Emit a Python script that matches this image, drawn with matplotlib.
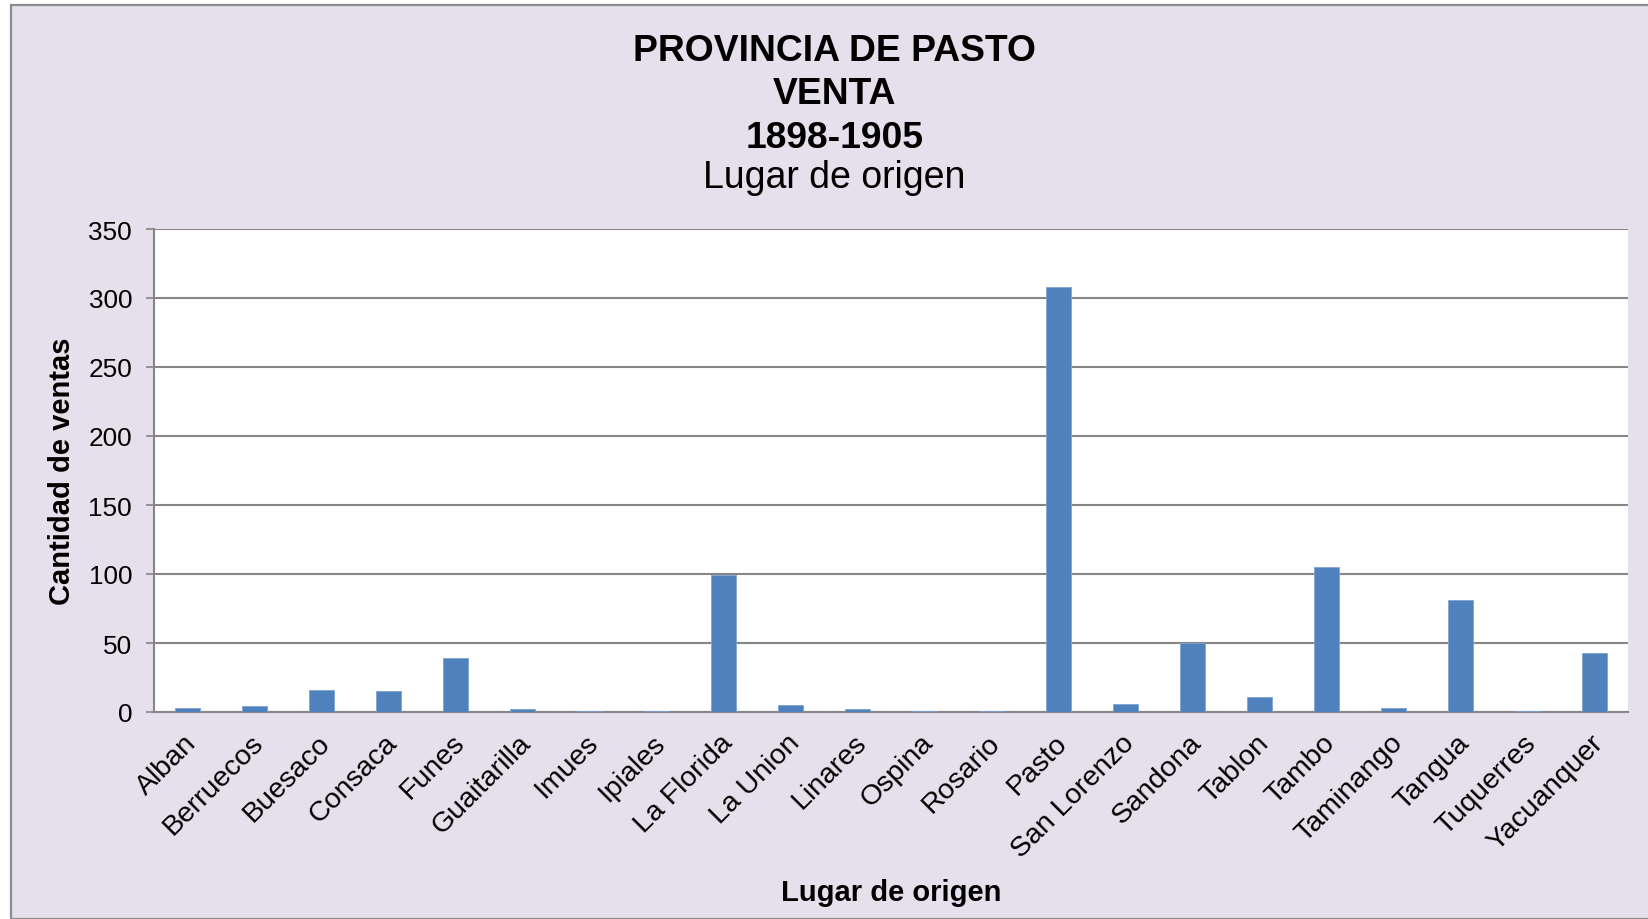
import matplotlib
matplotlib.use("Agg")
import matplotlib.pyplot as plt
import matplotlib.transforms as mtransforms
from matplotlib.patches import Rectangle

plt.rcParams['font.family'] = ['Liberation Sans', 'DejaVu Sans']

categories = ["Alban", "Berruecos", "Buesaco", "Consaca", "Funes", "Guaitarilla",
              "Imues", "Ipiales", "La Florida", "La Union", "Linares", "Ospina",
              "Rosario", "Pasto", "San Lorenzo", "Sandona", "Tablon", "Tambo",
              "Taminango", "Tangua", "Tuquerres", "Yacuanquer"]
ventas = [3, 4, 16, 15, 39, 2, 1, 1, 99, 5, 2, 1, 1, 308, 6, 50, 11, 105, 3, 81, 1, 43]
yticks = [0, 50, 100, 150, 200, 250, 300, 350]

W, H = 1649, 920
fig = plt.figure(figsize=(W / 100, H / 100), dpi=100, facecolor="white")

# outer chart area (only left/top border visible)
bg = Rectangle((11 / W, 0), 1.2, 1 - 6 / H, transform=fig.transFigure,
               facecolor="#E5E0EC", edgecolor="#8C8C8C", linewidth=1.6, zorder=-10)
fig.patches.append(bg)

ax = fig.add_axes([154 / W, 1 - 713 / H, (1628 - 154) / W, (713 - 230) / H])
ax.set_facecolor("white")

x = list(range(len(categories)))
ax.bar(x, ventas, width=0.38, color="#4F81BD", edgecolor="#7FA3D0", linewidth=0.6, zorder=5)

ax.set_xlim(-0.5, len(categories) - 0.5)
ax.set_ylim(0, 350)
ax.set_yticks(yticks)
ax.set_yticklabels([str(v) for v in yticks], fontsize=18.8)
ax.yaxis.grid(True, color="#868686", linewidth=1.5, zorder=0)
ax.set_axisbelow(True)

for s in ["top", "right"]:
    ax.spines[s].set_visible(False)
for s in ["left", "bottom"]:
    ax.spines[s].set_color("#868686")
    ax.spines[s].set_linewidth(1.5)
ax.spines["bottom"].set_zorder(4)

ax.tick_params(axis="y", direction="out", length=5.8, width=1.2, color="#868686", pad=10)
ax.tick_params(axis="x", length=0, pad=19)

ax.set_xticks(x)
ax.set_xticklabels(categories, fontsize=20.5, rotation=45, ha="right", va="center",
                   rotation_mode="anchor")
offset = mtransforms.ScaledTranslation(5 / 100, 0, fig.dpi_scale_trans)
for lab in ax.get_xticklabels():
    lab.set_transform(lab.get_transform() + offset)

# titles
cx = 834.5 / W
fig.text(cx, 1 - 60.7 / H, "PROVINCIA DE PASTO", ha="center", va="baseline",
         fontsize=26.8, fontweight="bold")
fig.text(cx, 1 - 104.3 / H, "VENTA", ha="center", va="baseline",
         fontsize=26.8, fontweight="bold")
fig.text(cx, 1 - 148.3 / H, "1898-1905", ha="center", va="baseline",
         fontsize=26.8, fontweight="bold")
fig.text(cx, 1 - 188.3 / H, "Lugar de origen", ha="center", va="baseline",
         fontsize=27)

fig.text(891 / W, 1 - 900.7 / H, "Lugar de origen", ha="center", va="baseline",
         fontsize=21, fontweight="bold")
fig.text(62.5 / W, 1 - 471.5 / H, "Cantidad de ventas", ha="center", va="center",
         rotation=90, fontsize=21, fontweight="bold")

fig.savefig("out.png", dpi=100, facecolor="white")
